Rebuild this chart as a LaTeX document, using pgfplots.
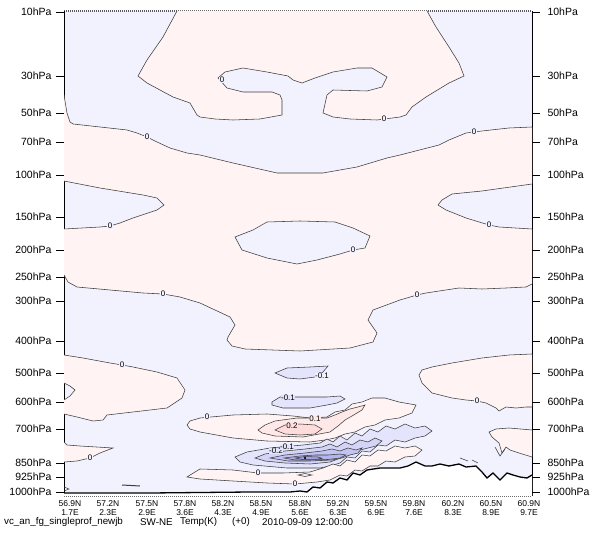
\documentclass[border=0pt]{standalone}
\usepackage{fontspec}
\setmainfont{Liberation Sans}
\usepackage{pgfplots}
\pgfplotsset{compat=1.18}

% shading for the temperature-increment bands
\definecolor{negbg}{RGB}{242,242,255}
\definecolor{posbg}{RGB}{255,243,243}
\definecolor{posA}{RGB}{255,232,232}
\definecolor{posB}{RGB}{255,220,220}
\definecolor{negA}{RGB}{228,228,252}
\definecolor{negB}{RGB}{212,212,248}
\definecolor{negC}{RGB}{196,196,243}
\definecolor{negD}{RGB}{180,180,238}
\definecolor{negE}{RGB}{162,162,232}
\definecolor{cline}{RGB}{60,60,60}

\tikzset{clab/.style={font=\fontsize{8}{8}\selectfont, inner sep=0.3pt, fill=#1}}

\pgfplotsset{
  sectionframe/.style={
    width=468pt, height=485pt, scale only axis,
    xmin=64, xmax=532, ymin=11, ymax=496, y dir=reverse,
    ytick={12,76,113,142,175,217,250,277,301,341,373,402,429,463,477,492},
    yticklabels={10hPa,30hPa,50hPa,70hPa,100hPa,150hPa,200hPa,250hPa,300hPa,400hPa,500hPa,600hPa,700hPa,850hPa,925hPa,1000hPa},
    tick align=outside, major tick length=8pt,
    ytick style={draw=black, line width=0.7pt},
    yticklabel style={font=\fontsize{10.5}{12}\selectfont},
  },
  cl/.style={draw=cline, line width=0.55pt},
}

\begin{document}
\begin{tikzpicture}
\begin{axis}[
  sectionframe,
  axis background/.style={fill=negbg},
  separate axis lines,
  x axis line style={draw=black!65, line width=1.6pt, dash pattern=on 1pt off 1pt},
  y axis line style={draw=black, line width=0.8pt},
  ytick pos=left,
  yticklabel style={xshift=-1pt},
  xtick={70,108,147,185,223,261,300,338,376,414,453,491,529},
  xticklabels={{56.9N\\1.7E},{57.2N\\2.3E},{57.5N\\2.9E},{57.8N\\3.6E},{58.2N\\4.3E},{58.5N\\4.9E},{58.8N\\5.6E},{59.2N\\6.3E},{59.5N\\6.9E},{59.8N\\7.6E},{60.2N\\8.3E},{60.5N\\8.9E},{60.9N\\9.7E}},
  xtick style={draw=none},
  xticklabel style={align=center, font=\fontsize{8.5}{9}\selectfont, inner sep=1pt, yshift=4.5pt},
]

% ---- stratospheric warm cap
\addplot[fill=posbg, draw=none] coordinates {
(177,11) (163,37) (147,60) (138,76) (147,83) (160,90) (173,97) (190,103) (197,115) (200,117) (215,119) (233,120) (260,119) (282,115) (282,100) (280,95) (272,92) (243,92) (227,88) (218,78) (225,72) (243,68) (267,72) (288,76) (293,80) (302,83) (315,78) (333,72) (357,68) (372,68) (387,77) (382,87) (367,91) (333,90) (327,95) (323,113) (333,117) (350,119) (377,120) (400,117) (406,115) (412,107) (426,97) (449,83) (464,76) (459,63) (449,47) (436,27) (427,11)} --cycle;
\addplot[cl] coordinates {
(177,11) (163,37) (147,60) (138,76) (147,83) (160,90) (173,97) (190,103) (197,115) (200,117) (215,119) (233,120) (260,119) (282,115) (282,100) (280,95) (272,92) (243,92) (227,88) (218,78) (225,72) (243,68) (267,72) (288,76) (293,80) (302,83) (315,78) (333,72) (357,68) (372,68) (387,77) (382,87) (367,91) (333,90) (327,95) (323,113) (333,117) (350,119) (377,120) (400,117) (406,115) (412,107) (426,97) (449,83) (464,76) (459,63) (449,47) (436,27) (427,11)};

% ---- tropopause warm band
\addplot[fill=posbg, draw=none] coordinates {
(64,95) (67,113) (70,122) (73,124) (100,127) (127,130) (137,133) (147,137) (157,142) (170,148) (187,153) (200,155) (233,163) (277,173) (323,173) (357,167) (387,158) (400,155) (439,145) (449,140) (466,133) (482,131) (509,128) (532,127)
(532,184) (482,191) (452,194) (442,200) (438,205) (446,210) (466,218) (489,225) (499,227) (532,229)
(532,284) (526,287) (506,288) (482,289) (459,288) (426,293) (417,295) (400,300) (373,310) (368,320) (377,333) (373,342) (350,348) (300,351) (245,349) (232,346) (227,340) (228,337) (235,325) (230,317) (200,303) (180,297) (163,294) (143,293) (110,290) (77,287) (68,282) (64,275)
(64,229) (100,227) (110,226) (120,223) (133,218) (157,210) (164,205) (157,198) (143,195) (100,188) (64,181)} --cycle;
\addplot[cl] coordinates {(64,95) (67,113) (70,122) (73,124) (100,127) (127,130) (137,133) (147,137) (157,142) (170,148) (187,153) (200,155) (233,163) (277,173) (323,173) (357,167) (387,158) (400,155) (439,145) (449,140) (466,133) (482,131) (509,128) (532,127)};
\addplot[cl] coordinates {(532,184) (482,191) (452,194) (442,200) (438,205) (446,210) (466,218) (489,225) (499,227) (532,229)};
\addplot[cl] coordinates {(532,284) (526,287) (506,288) (482,289) (459,288) (426,293) (417,295) (400,300) (373,310) (368,320) (377,333) (373,342) (350,348) (300,351) (245,349) (232,346) (227,340) (228,337) (235,325) (230,317) (200,303) (180,297) (163,294) (143,293) (110,290) (77,287) (68,282) (64,275)};
\addplot[cl] coordinates {(64,229) (100,227) (110,226) (120,223) (133,218) (157,210) (164,205) (157,198) (143,195) (100,188) (64,181)};
% cold lens near 200hPa
\addplot[fill=negbg, cl] coordinates {(235,237) (253,230) (267,222) (300,221) (335,222) (353,228) (370,236) (365,248) (353,250) (340,254) (317,260) (297,264) (267,258) (242,250)} --cycle;

% ---- mid-troposphere warm tongues
\addplot[fill=posbg, draw=none] coordinates {(64,355) (83,358) (110,363) (122,365) (133,367) (157,372) (177,378) (185,390) (182,398) (167,408) (133,412) (107,415) (103,420) (93,421) (77,417) (64,414) (64,400) (70,396) (75,390) (70,386) (64,383)} --cycle;
\addplot[cl] coordinates {(64,355) (83,358) (110,363) (122,365) (133,367) (157,372) (177,378) (185,390) (182,398) (167,408) (133,412) (107,415) (103,420) (93,421) (77,417) (64,414)};
\addplot[cl] coordinates {(64,400) (70,396) (75,390) (70,386) (64,383)};
\addplot[fill=posbg, draw=none] coordinates {(532,354) (509,355) (482,358) (452,363) (432,367) (422,370) (419,375) (422,383) (432,393) (452,398) (466,400) (477,401) (486,403) (496,408) (499,411) (506,407) (516,408) (526,407) (532,407)} --cycle;
\addplot[cl] coordinates {(532,354) (509,355) (482,358) (452,363) (432,367) (422,370) (419,375) (422,383) (432,393) (452,398) (466,400) (477,401) (486,403) (496,408) (499,411) (506,407) (516,408) (526,407) (532,407)};
% cold lenses at 500 and 600hPa
\addplot[fill=negA, cl] coordinates {(275,373) (287,368) (310,367) (328,366) (323,372) (315,377) (300,379) (287,378)} --cycle;
\addplot[fill=negA, cl] coordinates {(272,402) (280,397) (307,397) (327,397) (340,396) (345,399) (337,403) (327,405) (310,408) (283,408) (272,405)} --cycle;

% ---- warm band at 700hPa
\addplot[fill=posbg, cl] coordinates {(187,425) (190,421) (200,418) (233,415) (267,414) (293,416) (310,418) (327,417) (335,412) (345,410) (352,404) (362,402) (372,398) (385,398) (399,402) (416,405) (412,413) (399,418) (385,420) (375,425) (365,427) (355,432) (345,434) (335,438) (325,440) (310,442) (267,441) (233,438) (200,432) (190,429)} --cycle;
\addplot[fill=posA, cl] coordinates {(258,430) (265,425) (275,421) (297,418) (313,418) (327,418) (335,415) (342,412) (350,409) (358,407) (365,405) (362,410) (352,416) (345,420) (338,426) (330,432) (303,437) (275,436) (262,433)} --cycle;
\addplot[fill=posB, cl] coordinates {(275,430) (285,425) (300,424) (315,425) (322,429) (315,434) (300,435) (285,434)} --cycle;

% ---- cold core at 850hPa
\addplot[fill=negA, cl] coordinates {(235,457) (247,452) (270,448) (303,445) (320,443) (327,439) (333,442) (340,436) (347,440) (355,433) (362,436) (370,429) (378,432) (386,426) (395,429) (405,424) (415,428) (425,426) (432,431) (425,436) (415,438) (405,442) (395,440) (386,446) (378,445) (370,452) (362,451) (355,458) (347,457) (340,463) (330,466) (320,468) (287,468) (253,465) (240,462)} --cycle;
\addplot[fill=negB, cl] coordinates {(255,458) (265,454) (285,451) (305,449) (322,447) (330,444) (337,447) (345,442) (352,445) (360,440) (368,442) (375,438) (382,441) (376,446) (368,448) (360,450) (352,454) (345,455) (338,459) (330,462) (310,464) (285,463) (265,461)} --cycle;
\addplot[fill=negC, cl] coordinates {(270,458) (285,455) (305,453) (322,451) (332,449) (340,451) (348,448) (356,450) (362,448) (358,453) (350,455) (342,458) (332,460) (310,461) (288,461)} --cycle;
\addplot[fill=negD, cl] coordinates {(284,458) (300,456) (315,455) (328,455) (340,454) (346,455) (340,458) (328,459.5) (310,460) (295,460)} --cycle;
\addplot[fill=negE, cl] coordinates {(295,458) (305,456.5) (318,457) (322,458.3) (315,459.6) (303,459.6)} --cycle;
\addplot[only marks, mark=*, mark size=0.8pt, black] coordinates {(305,458)};

% ---- shallow warm layer near 925hPa
\addplot[fill=posbg, cl] coordinates {(187,477) (195,472) (200,469) (233,470) (258,473) (283,473) (310,472) (323,468) (333,464) (340,466) (347,460) (355,462) (362,455) (370,456) (378,450) (386,451) (395,446) (405,448) (415,446) (422,450) (415,456) (405,457) (395,462) (386,461) (378,466) (370,466) (362,471) (355,470) (347,476) (340,475) (330,480) (317,482) (295,484) (267,483) (233,481) (200,479)} --cycle;
\addplot[fill=negbg, cl] coordinates {(298,475) (305,473.5) (312,475) (305,476.5)} --cycle;

% ---- low-level warm tongues at the edges
\addplot[fill=posbg, draw=none] coordinates {(64,442) (67,445) (80,446) (113,448) (100,453) (90,458) (77,461) (64,462)} --cycle;
\addplot[cl] coordinates {(64,442) (67,445) (80,446) (113,448) (100,453) (90,458) (77,461) (64,462)};
\addplot[fill=posbg, draw=none] coordinates {(532,430) (509,428) (496,429) (489,432) (492,437) (499,443) (502,453) (506,447) (510,450) (519,453) (532,457)} --cycle;
\addplot[cl] coordinates {(532,430) (509,428) (496,429) (489,432) (492,437) (499,443) (502,453) (506,447) (510,450) (519,453) (532,457)};
\addplot[cl] coordinates {(495,447) (500,456) (505,449)};
\addplot[cl] coordinates {(460,458) (468,461)};
\addplot[cl] coordinates {(472,460) (478,463)};
\addplot[cl, line width=1pt] coordinates {(122,485) (140,486)};
\addplot[cl] coordinates {(64,487) (69,489) (64,491)};

% ---- orography
\addplot[fill=white, draw=none] coordinates {(64,493) (150,493) (250,492) (290,492) (300,491) (307,492) (313,487) (320,488) (327,482) (333,483) (340,478) (347,480) (353,473) (360,475) (367,470) (380,468) (393,468) (400,468) (408,466) (416,462) (425,466) (432,466) (440,464) (449,466) (459,464) (466,467) (476,466) (482,472) (487,478) (493,473) (500,480) (507,473) (513,475) (520,477) (527,478) (532,475) (532,496) (64,496)} --cycle;
\addplot[black, line width=1.3pt] coordinates {(64,493) (150,493) (250,492) (290,492) (300,491) (307,492) (313,487) (320,488) (327,482) (333,483) (340,478) (347,480) (353,473) (360,475) (367,470) (380,468) (393,468) (400,468) (408,466) (416,462) (425,466) (432,466) (440,464) (449,466) (459,464) (466,467) (476,466) (482,472) (487,478) (493,473) (500,480) (507,473) (513,475) (520,477) (527,478) (532,475)};

% ---- contour labels
\node[clab=negbg] at (axis cs:222,80) {0};
\node[clab=negbg] at (axis cs:384,119) {0};
\node[clab=negbg] at (axis cs:147,137) {0};
\node[clab=negbg] at (axis cs:474,132) {0};
\node[clab=negbg] at (axis cs:110,226) {0};
\node[clab=negbg] at (axis cs:489,225) {0};
\node[clab=negbg] at (axis cs:353,250) {0};
\node[clab=negbg] at (axis cs:163,294) {0};
\node[clab=negbg] at (axis cs:417,295) {0};
\node[clab=negbg] at (axis cs:122,365) {0};
\node[clab=negbg] at (axis cs:477,401) {0};
\node[clab=negbg] at (axis cs:322,376) {-0.1};
\node[clab=negA] at (axis cs:288,398) {-0.1};
\node[clab=negbg] at (axis cs:207,417) {0};
\node[clab=posA] at (axis cs:315,419) {0.1};
\node[clab=posB] at (axis cs:292,426) {0.2};
\node[clab=negA] at (axis cs:276,451) {-0.2};
\node[clab=negA] at (axis cs:287,447) {-0.1};
\node[clab=negbg] at (axis cs:258,473) {0};
\node[clab=negbg] at (axis cs:295,484) {0};
\node[clab=negbg] at (axis cs:90,458) {0};
\end{axis}

% right-hand pressure scale
\begin{axis}[
  sectionframe,
  hide x axis,
  axis line style={draw=none},
  ytick pos=right, yticklabel pos=right,
  yticklabel style={xshift=4pt},
]
\end{axis}

\pgfresetboundingbox
\path[use as bounding box] (-64pt,-38pt) rectangle (535pt,496pt);

\begin{scope}[every node/.style={font=\fontsize{9.8}{10}\selectfont, anchor=west, inner sep=0pt}]
\node at (-60pt,-26pt) {vc\_an\_fg\_singleprof\_newjb};
\node at (76pt,-26pt) {SW-NE};
\node at (116pt,-26pt) {Temp(K)};
\node at (168pt,-26pt) {(+0)};
\node at (198pt,-26pt) {2010-09-09 12:00:00};
\end{scope}
\end{tikzpicture}
\end{document}
